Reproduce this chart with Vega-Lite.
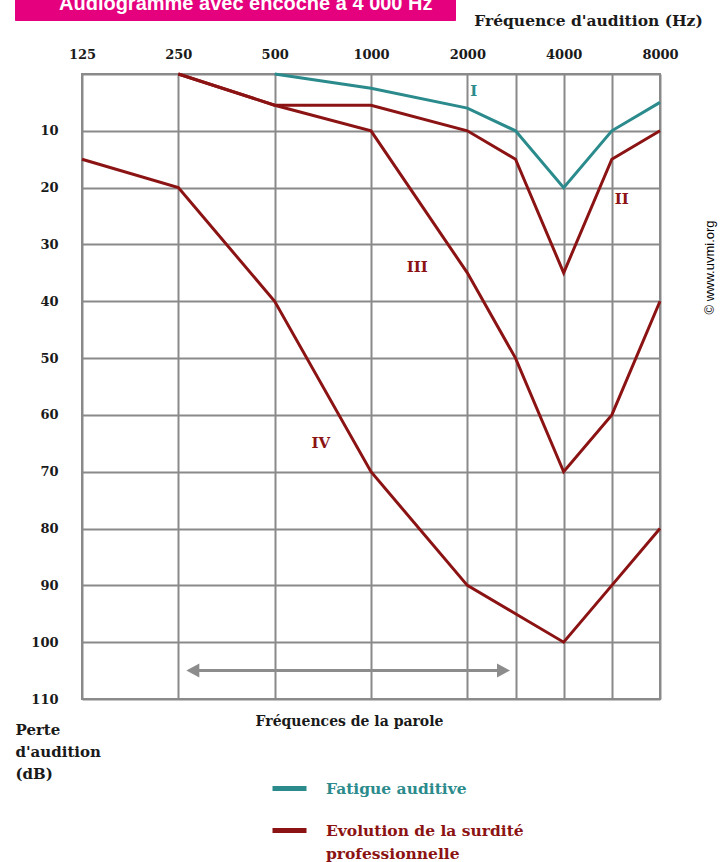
{
  "$schema": "https://vega.github.io/schema/vega-lite/v6.json",
  "width": 578,
  "height": 625,
  "autosize": {"type": "none"},
  "padding": {"left": 82, "top": 74, "right": 61, "bottom": 163},
  "background": "white",
  "config": {
    "view": {"stroke": "#8a8a8a", "strokeWidth": 2},
    "font": "DejaVu Serif"
  },
  "datasets": {
    "curves": [
      {"curve": "I", "type": "Fatigue auditive", "freq": 500, "db": 0},
      {"curve": "I", "type": "Fatigue auditive", "freq": 1000, "db": 2.5},
      {"curve": "I", "type": "Fatigue auditive", "freq": 2000, "db": 6},
      {"curve": "I", "type": "Fatigue auditive", "freq": 3000, "db": 10},
      {"curve": "I", "type": "Fatigue auditive", "freq": 4000, "db": 20},
      {"curve": "I", "type": "Fatigue auditive", "freq": 6000, "db": 10},
      {"curve": "I", "type": "Fatigue auditive", "freq": 8000, "db": 5},
      {"curve": "II", "type": "Evolution de la surdité professionnelle", "freq": 250, "db": 0},
      {"curve": "II", "type": "Evolution de la surdité professionnelle", "freq": 500, "db": 5.5},
      {"curve": "II", "type": "Evolution de la surdité professionnelle", "freq": 1000, "db": 5.5},
      {"curve": "II", "type": "Evolution de la surdité professionnelle", "freq": 2000, "db": 10},
      {"curve": "II", "type": "Evolution de la surdité professionnelle", "freq": 3000, "db": 15},
      {"curve": "II", "type": "Evolution de la surdité professionnelle", "freq": 4000, "db": 35},
      {"curve": "II", "type": "Evolution de la surdité professionnelle", "freq": 6000, "db": 15},
      {"curve": "II", "type": "Evolution de la surdité professionnelle", "freq": 8000, "db": 10},
      {"curve": "III", "type": "Evolution de la surdité professionnelle", "freq": 250, "db": 0},
      {"curve": "III", "type": "Evolution de la surdité professionnelle", "freq": 500, "db": 5.5},
      {"curve": "III", "type": "Evolution de la surdité professionnelle", "freq": 1000, "db": 10},
      {"curve": "III", "type": "Evolution de la surdité professionnelle", "freq": 2000, "db": 35},
      {"curve": "III", "type": "Evolution de la surdité professionnelle", "freq": 3000, "db": 50},
      {"curve": "III", "type": "Evolution de la surdité professionnelle", "freq": 4000, "db": 70},
      {"curve": "III", "type": "Evolution de la surdité professionnelle", "freq": 6000, "db": 60},
      {"curve": "III", "type": "Evolution de la surdité professionnelle", "freq": 8000, "db": 40},
      {"curve": "IV", "type": "Evolution de la surdité professionnelle", "freq": 125, "db": 15},
      {"curve": "IV", "type": "Evolution de la surdité professionnelle", "freq": 250, "db": 20},
      {"curve": "IV", "type": "Evolution de la surdité professionnelle", "freq": 500, "db": 40},
      {"curve": "IV", "type": "Evolution de la surdité professionnelle", "freq": 1000, "db": 70},
      {"curve": "IV", "type": "Evolution de la surdité professionnelle", "freq": 2000, "db": 90},
      {"curve": "IV", "type": "Evolution de la surdité professionnelle", "freq": 3000, "db": 95},
      {"curve": "IV", "type": "Evolution de la surdité professionnelle", "freq": 4000, "db": 100},
      {"curve": "IV", "type": "Evolution de la surdité professionnelle", "freq": 6000, "db": 90},
      {"curve": "IV", "type": "Evolution de la surdité professionnelle", "freq": 8000, "db": 80}
    ],
    "labels": [
      {"label": "I", "type": "Fatigue auditive", "freq": 2000, "db": 3},
      {"label": "II", "type": "Evolution de la surdité professionnelle", "freq": 6000, "db": 22},
      {"label": "III", "type": "Evolution de la surdité professionnelle", "freq": 1414, "db": 34},
      {"label": "IV", "type": "Evolution de la surdité professionnelle", "freq": 707, "db": 65}
    ],
    "arrow": [
      {"end": "left", "freq": 250, "db": 105},
      {"end": "right", "freq": 3000, "db": 105}
    ]
  },
  "resolve": {"axis": {"x": "independent", "y": "independent"}},
  "layer": [
    {
      "data": {"name": "curves"},
      "mark": {"type": "line", "strokeWidth": 3},
      "encoding": {
        "x": {
          "field": "freq", "type": "ordinal",
          "scale": {"type": "point", "domain": [125, 177, 250, 354, 500, 707, 1000, 1414, 2000, 3000, 4000, 6000, 8000], "padding": 0},
          "axis": {
            "orient": "top",
            "values": [125, 250, 500, 1000, 2000, 3000, 4000, 6000, 8000],
            "labelExpr": "datum.value == 3000 || datum.value == 6000 ? '' : datum.label",
            "grid": true, "gridColor": "#8a8a8a", "gridWidth": 2, "gridOpacity": 1,
            "ticks": false, "tickSize": 0, "domain": false,
            "labelAngle": 0, "labelPadding": 13, "labelFlush": false, "labelOverlap": false,
            "labelFont": "DejaVu Serif", "labelFontWeight": "bold", "labelFontSize": 13, "labelColor": "#1a1a1a",
            "title": "Fréquence d'audition (Hz)",
            "titleFont": "DejaVu Serif", "titleFontWeight": "bold", "titleFontSize": 15.5, "titleColor": "#1a1a1a",
            "titleX": 506, "titleY": -49, "titleAlign": "center", "titleBaseline": "alphabetic", "titleAngle": 0
          }
        },
        "y": {
          "field": "db", "type": "quantitative",
          "scale": {"domain": [0, 110], "reverse": true, "nice": false, "zero": false},
          "axis": {
            "orient": "left",
            "values": [0, 10, 20, 30, 40, 50, 60, 70, 80, 90, 100, 110],
            "labelExpr": "datum.value == 0 ? '' : datum.label",
            "grid": true, "gridColor": "#8a8a8a", "gridWidth": 2, "gridOpacity": 1,
            "ticks": false, "tickSize": 0, "domain": false,
            "labelPadding": 24, "labelFlush": false, "labelOverlap": false,
            "labelFont": "DejaVu Serif", "labelFontWeight": "bold", "labelFontSize": 13, "labelColor": "#1a1a1a",
            "title": ["Perte", "d'audition", "(dB)"],
            "titleFont": "DejaVu Serif", "titleFontWeight": "bold", "titleFontSize": 15, "titleColor": "#1a1a1a",
            "titleAngle": 0, "titleAlign": "left", "titleBaseline": "alphabetic",
            "titleX": -67, "titleY": 660, "titleLineHeight": 22
          }
        },
        "color": {
          "field": "type", "type": "nominal",
          "scale": {"domain": ["Fatigue auditive", "Evolution de la surdité professionnelle"], "range": ["#2b8b8c", "#8b1313"]},
          "legend": {
            "orient": "none", "legendX": 188, "legendY": 695,
            "title": null, "padding": 0,
            "symbolType": "stroke", "symbolSize": 1156, "symbolStrokeWidth": 5,
            "labelOffset": 17, "rowPadding": 12,
            "labelFont": "DejaVu Serif", "labelFontWeight": "bold", "labelFontSize": 15.5, "labelLimit": 500,
            "labelExpr": "datum.value == 'Fatigue auditive' ? datum.label : ['Evolution de la surdité', '\u00a0professionnelle']",
            "encoding": {
              "labels": {
                "fill": {"value": "#8b1313", "condition": {"test": "datum.value == 'Fatigue auditive'", "value": "#2b8b8c"}},
                "lineHeight": {"value": 23}
              }
            }
          }
        },
        "detail": {"field": "curve", "type": "nominal"}
      }
    },
    {
      "data": {"name": "labels"},
      "transform": [{"filter": "datum.label == 'I' || datum.label == 'II'"}],
      "mark": {"type": "text", "align": "left", "baseline": "middle", "dx": 3, "font": "DejaVu Serif", "fontWeight": "bold", "fontSize": 15},
      "encoding": {
        "x": {"field": "freq", "type": "ordinal", "scale": {"type": "point", "domain": [125, 177, 250, 354, 500, 707, 1000, 1414, 2000, 3000, 4000, 6000, 8000], "padding": 0}, "axis": null},
        "y": {"field": "db", "type": "quantitative", "scale": {"domain": [0, 110], "reverse": true, "nice": false, "zero": false}, "axis": null},
        "text": {"field": "label"},
        "color": {"field": "type", "type": "nominal", "scale": {"domain": ["Fatigue auditive", "Evolution de la surdité professionnelle"], "range": ["#2b8b8c", "#8b1313"]}, "legend": null}
      }
    },
    {
      "data": {"name": "labels"},
      "transform": [{"filter": "datum.label == 'III' || datum.label == 'IV'"}],
      "mark": {"type": "text", "align": "center", "baseline": "middle", "dx": -2, "font": "DejaVu Serif", "fontWeight": "bold", "fontSize": 15},
      "encoding": {
        "x": {"field": "freq", "type": "ordinal", "scale": {"type": "point", "domain": [125, 177, 250, 354, 500, 707, 1000, 1414, 2000, 3000, 4000, 6000, 8000], "padding": 0}, "axis": null},
        "y": {"field": "db", "type": "quantitative", "scale": {"domain": [0, 110], "reverse": true, "nice": false, "zero": false}, "axis": null},
        "text": {"field": "label"},
        "color": {"field": "type", "type": "nominal", "scale": {"domain": ["Fatigue auditive", "Evolution de la surdité professionnelle"], "range": ["#2b8b8c", "#8b1313"]}, "legend": null}
      }
    },
    {
      "data": {"name": "arrow"},
      "mark": {"type": "line", "color": "#8c8c8c", "strokeWidth": 3, "strokeCap": "butt", "strokeDash": [0, 13, 312, 1000]},
      "encoding": {
        "x": {
          "field": "freq", "type": "ordinal",
          "scale": {"type": "point", "domain": [125, 177, 250, 354, 500, 707, 1000, 1414, 2000, 3000, 4000, 6000, 8000], "padding": 0},
          "axis": {
            "orient": "bottom", "labels": false, "ticks": false, "domain": false, "grid": false,
            "title": "Fréquences de la parole",
            "titleFont": "DejaVu Serif", "titleFontWeight": "bold", "titleFontSize": 14, "titleColor": "#1a1a1a",
            "titleX": 267, "titleY": 26, "titleAlign": "center", "titleBaseline": "alphabetic"
          }
        },
        "y": {
          "field": "db", "type": "quantitative",
          "scale": {"domain": [0, 110], "reverse": true, "nice": false, "zero": false},
          "axis": {
            "orient": "right", "labels": false, "ticks": false, "domain": false, "grid": false,
            "title": "© www.uvmi.org",
            "titleFont": "Liberation Sans", "titleFontWeight": "normal", "titleFontSize": 13, "titleColor": "#000000",
            "titleAngle": 270, "titleX": 49, "titleY": 193, "titleAlign": "center", "titleBaseline": "middle"
          }
        }
      }
    },
    {
      "data": {"name": "arrow"},
      "transform": [{"filter": "datum.end == 'left'"}],
      "mark": {"type": "point", "filled": true, "opacity": 1, "size": 196, "color": "#8c8c8c", "shape": "M1.14,0L3,-1L3,1Z"},
      "encoding": {
        "x": {"field": "freq", "type": "ordinal", "scale": {"type": "point", "domain": [125, 177, 250, 354, 500, 707, 1000, 1414, 2000, 3000, 4000, 6000, 8000], "padding": 0}, "axis": null},
        "y": {"field": "db", "type": "quantitative", "scale": {"domain": [0, 110], "reverse": true, "nice": false, "zero": false}, "axis": null},
        "strokeDash": {
          "datum": "Audiogramme avec encoche à 4 000 Hz", "type": "nominal",
          "legend": {
            "orient": "none", "legendX": -67, "legendY": -86,
            "title": ".", "titleOrient": "right", "titlePadding": 14,
            "titleAnchor": "end", "titleBaseline": "bottom",
            "titleFont": "Liberation Sans", "titleFontSize": 10, "titleColor": "#e5007e",
            "padding": 6, "cornerRadius": 0,
            "fillColor": "#e5007e", "strokeColor": "#e5007e",
            "symbolType": "square", "symbolSize": 256, "symbolOpacity": 0,
            "labelOffset": 18, "labelLimit": 700,
            "labelFont": "Liberation Sans", "labelFontWeight": "bold", "labelFontSize": 20, "labelColor": "#ffffff"
          }
        }
      }
    },
    {
      "data": {"name": "arrow"},
      "transform": [{"filter": "datum.end == 'right'"}],
      "mark": {"type": "point", "filled": true, "opacity": 1, "size": 196, "color": "#8c8c8c", "shape": "M-0.79,0L-2.64,-1L-2.64,1Z"},
      "encoding": {
        "x": {"field": "freq", "type": "ordinal", "scale": {"type": "point", "domain": [125, 177, 250, 354, 500, 707, 1000, 1414, 2000, 3000, 4000, 6000, 8000], "padding": 0}, "axis": null},
        "y": {"field": "db", "type": "quantitative", "scale": {"domain": [0, 110], "reverse": true, "nice": false, "zero": false}, "axis": null}
      }
    }
  ]
}
